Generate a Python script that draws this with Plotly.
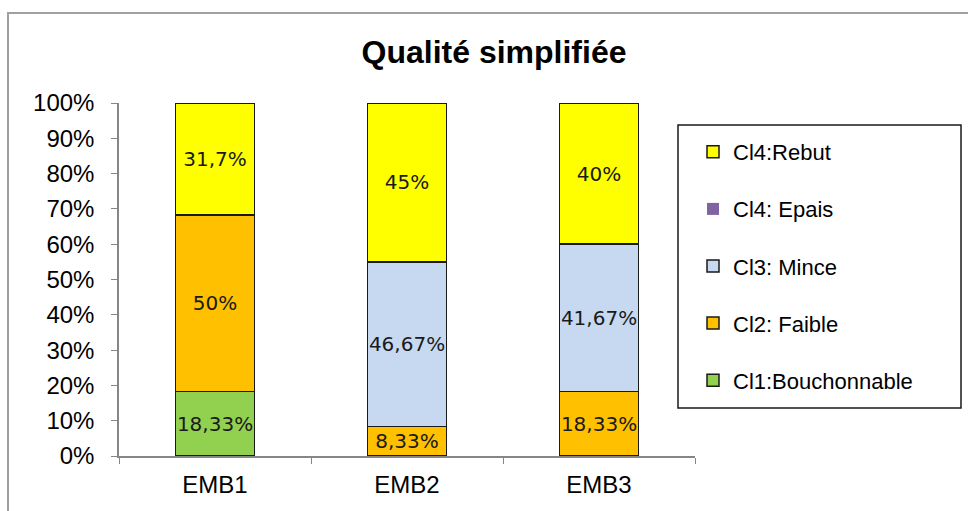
import plotly.graph_objects as go

# Categories and series values (percent of each batch)
categories = ["EMB1", "EMB2", "EMB3"]
series_names = ["Cl1:Bouchonnable", "Cl2: Faible", "Cl3: Mince", "Cl4: Epais", "Cl4:Rebut"]
cl1_bouchonnable = [18.33, 0, 0]
cl2_faible = [50, 8.33, 18.33]
cl3_mince = [0, 46.67, 41.67]
cl4_epais = [0, 0, 0]
cl4_rebut = [31.7, 45, 40]
y_ticks = list(range(0, 101, 10))
y_tick_labels = [f"{t}%" for t in y_ticks]

series_values = [cl1_bouchonnable, cl2_faible, cl3_mince, cl4_epais, cl4_rebut]
colors = ["#92D050", "#FFC000", "#C6D9F1", "#8064A2", "#FFFF00"]

W, H = 968, 511
ML, MR, MT, MB = 119, 273, 103, 55
PW, PH = W - ML - MR, H - MT - MB


def px_x(x):
    return (x - ML) / PW


def px_y(y):
    return (H - MB - y) / PH


def fmt(v):
    if v == 0:
        return ""
    s = ("%.2f" % v).rstrip("0").rstrip(".")
    return s.replace(".", ",") + "%"


fig = go.Figure()
n = len(series_names)
for i, (name, vals, col) in enumerate(zip(series_names, series_values, colors)):
    outline = 0 if name == "Cl4: Epais" else 1.5
    fig.add_trace(go.Bar(
        x=categories,
        # empty segments are left out so they draw no outline
        y=[v if v else None for v in vals],
        name=name,
        marker=dict(color=col, line=dict(color="#1a1a1a", width=outline)),
        text=[fmt(v) for v in vals],
        textposition="inside", insidetextanchor="middle", textangle=0,
        textfont=dict(family="DejaVu Sans", size=20, color="#1a1a1a"),
        legendgroup=f"g{i}",
        legendrank=n - i,
        width=0.41,
    ))

fig.update_layout(
    width=W, height=H,
    margin=dict(l=ML, r=MR, t=MT, b=MB),
    barmode="stack",
    plot_bgcolor="white", paper_bgcolor="white",
    uniformtext=dict(minsize=20, mode="show"),
    title=dict(text="<b>Qualité simplifiée</b>", x=494 / W, xanchor="center",
               y=1 - 52 / H, yanchor="middle",
               font=dict(family="Liberation Sans", size=32, color="black")),
    font=dict(family="Liberation Sans", color="black"),
    showlegend=True,
    legend=dict(traceorder="grouped", x=px_x(693), y=px_y(131),
                xanchor="left", yanchor="top",
                bgcolor="rgba(0,0,0,0)", borderwidth=0,
                tracegroupgap=25.5,
                font=dict(family="Liberation Sans", size=22, color="black")),
    xaxis=dict(showline=True, linecolor="#868686", linewidth=1.5,
               ticks="outside", tickson="boundaries", ticklen=6, tickcolor="#868686",
               ticklabelstandoff=6,
               tickfont=dict(size=24), showgrid=False),
    yaxis=dict(range=[0, 100], tickmode="array", tickvals=y_ticks, ticktext=y_tick_labels,
               showline=True, linecolor="#868686", linewidth=1.5,
               ticks="outside", ticklen=6, tickcolor="#868686",
               ticklabelstandoff=12,
               tickfont=dict(size=24), showgrid=False, zeroline=False),
    shapes=[
        # outer chart frame
        dict(type="rect", xref="paper", yref="paper",
             x0=px_x(8), x1=px_x(1010), y0=px_y(560), y1=px_y(13),
             line=dict(color="#A0A0A0", width=2), layer="below"),
        # legend box
        dict(type="rect", xref="paper", yref="paper",
             x0=px_x(678), x1=px_x(961), y0=px_y(408), y1=px_y(125),
             line=dict(color="#1a1a1a", width=1.5)),
    ],
)

fig.write_html("out.html")
